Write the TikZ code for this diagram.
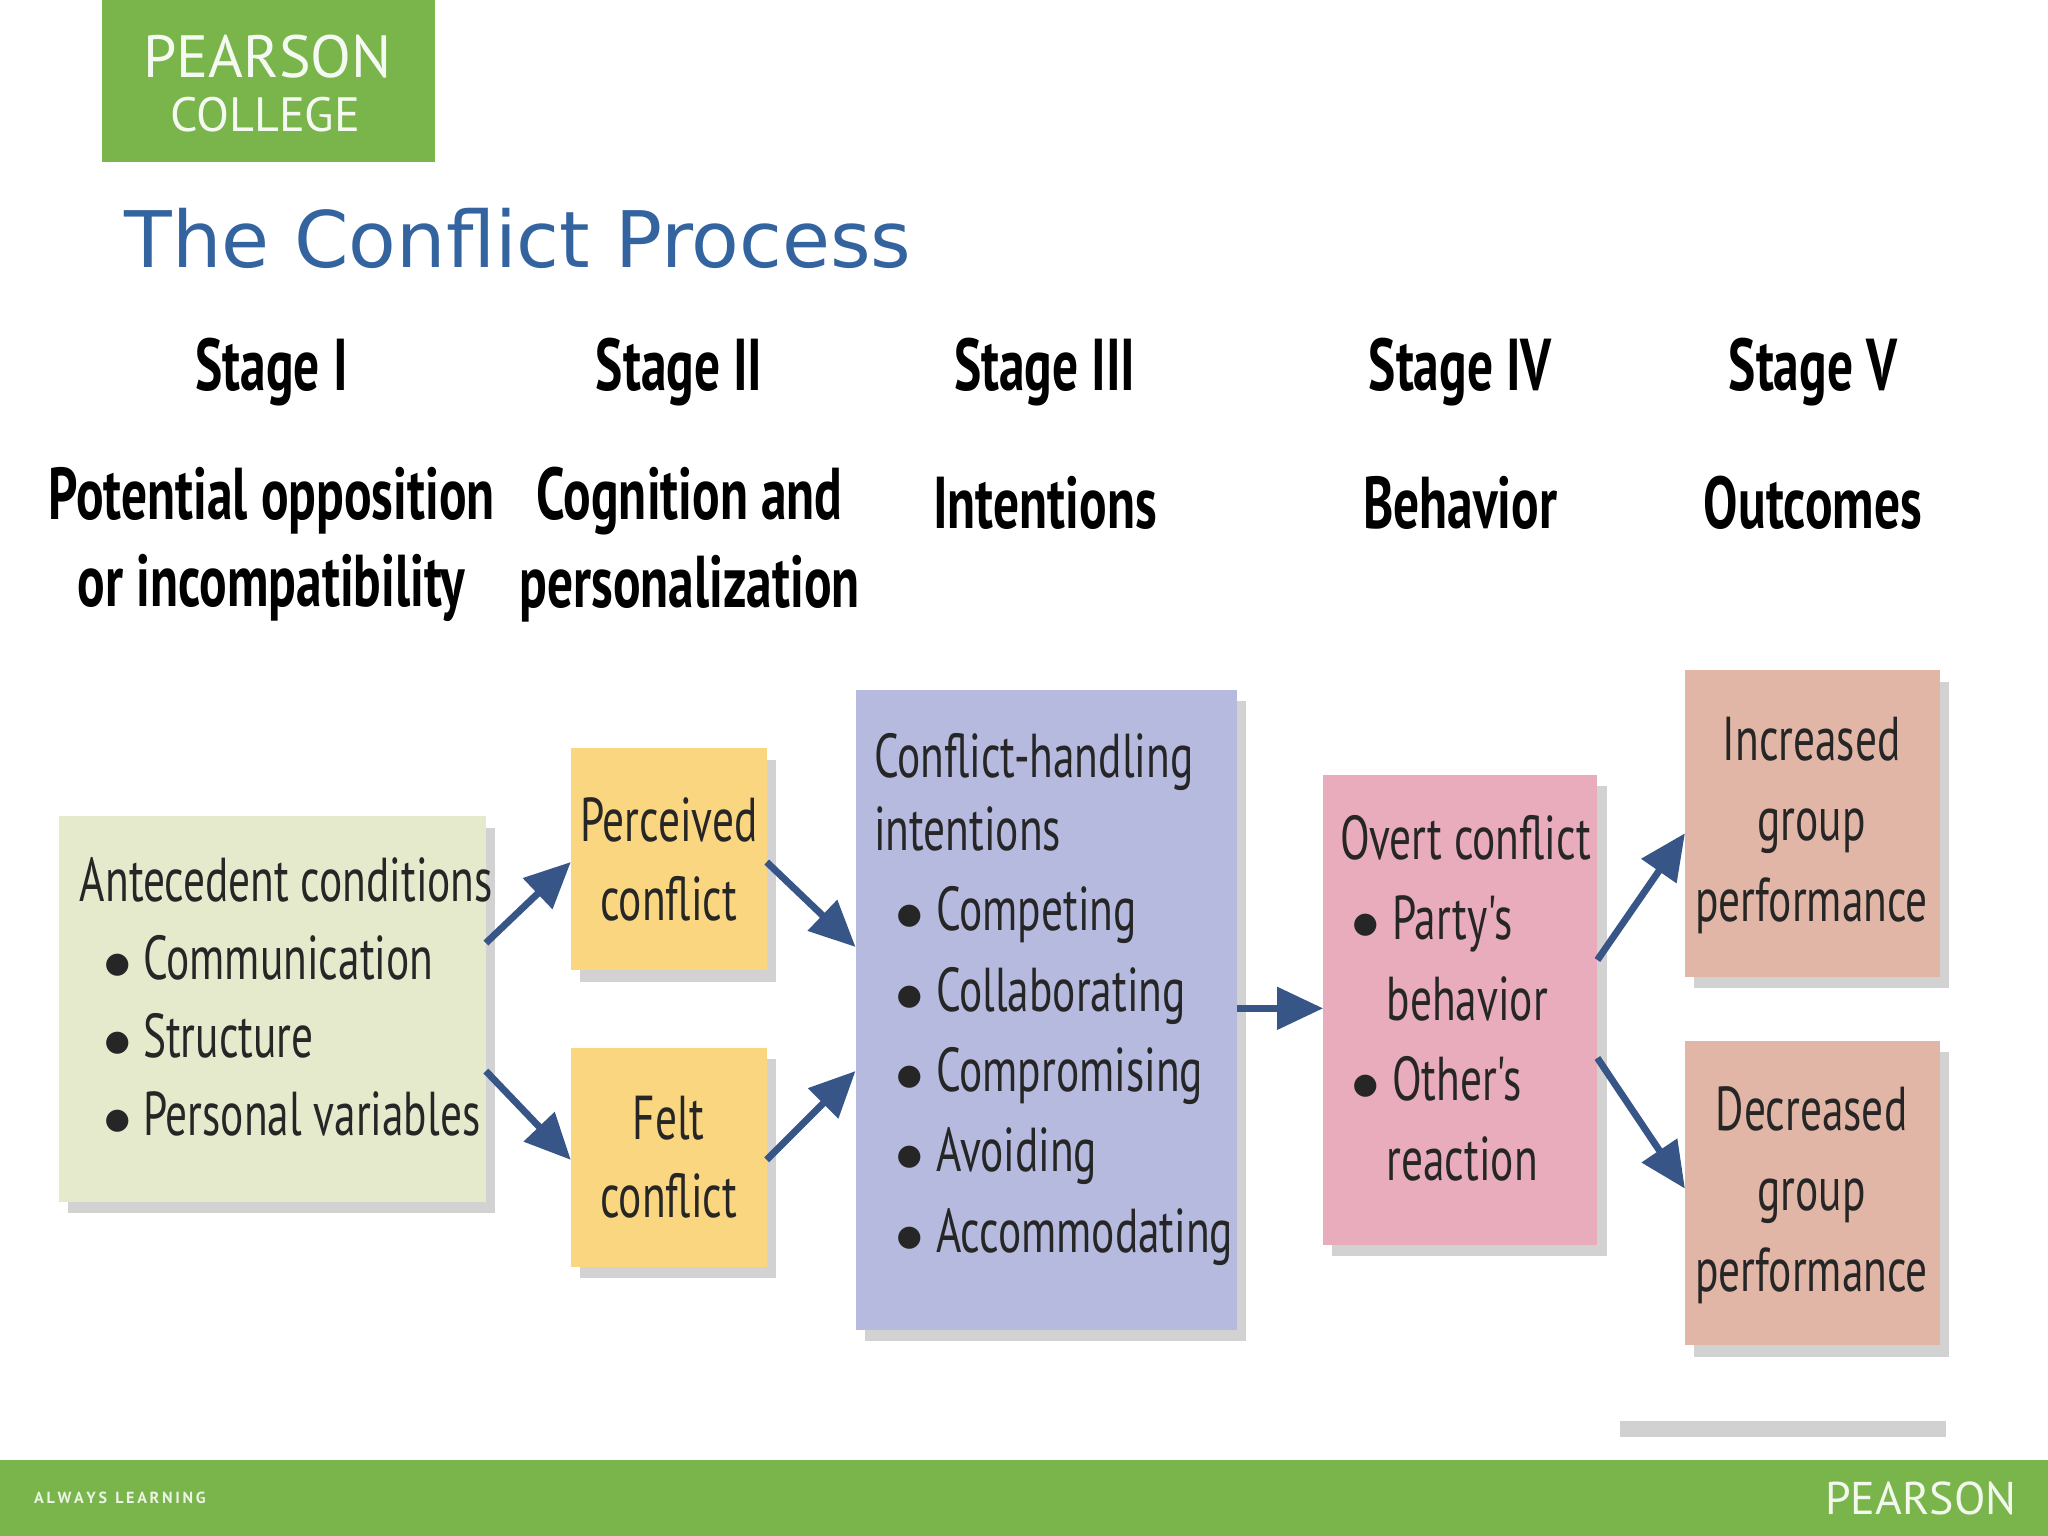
\documentclass[tikz,border=0pt]{standalone}
\usepackage{fontspec}
\setmainfont{PT Sans}
\newfontfamily\cond{PT Sans}[FakeStretch=0.7]
\newfontfamily\verd{DejaVu Sans}
\usetikzlibrary{calc,shadows,arrows.meta}
\definecolor{pgreen}{RGB}{122,181,76}
\definecolor{ptitle}{RGB}{52,100,160}
\definecolor{arr}{RGB}{55,85,135}
\definecolor{cA}{RGB}{230,234,205}
\definecolor{cB}{RGB}{250,214,128}
\definecolor{cC}{RGB}{182,186,222}
\definecolor{cD}{RGB}{232,172,188}
\definecolor{cE}{RGB}{226,182,166}
\begin{document}
\begin{tikzpicture}[x=0.02cm,y=-0.02cm,
 box/.style={draw=none,inner sep=0pt,drop shadow={shadow xshift=4pt,shadow yshift=-5pt,opacity=0.35}},
 txt/.style={font=\cond\fontsize{27}{34}\selectfont,text=black!85,align=center},
 hd/.style={font=\cond\bfseries\fontsize{32}{38}\selectfont,text=black,align=center},
 ar/.style={draw=arr,line width=3pt,-{Triangle[length=20pt,width=18pt]}}]
\useasboundingbox (0,0) rectangle (1568,1176);
\fill[white] (0,0) rectangle (1568,1176);
% logo
\fill[pgreen] (78,0) rectangle (333,124);
\node[text=white!92!pgreen,font=\fontsize{26}{26}\selectfont] (l1) at (205,43) {PEARSON};
\node[text=white!92!pgreen,font=\fontsize{21}{21}\selectfont] (l2) at (203,88) {COLLEGE};
\node[anchor=base west,text=ptitle,font=\verd\fontsize{34}{34}\selectfont,inner sep=0pt] (title) at (95,205) {The Conflict Process};
% headers
\node[hd] (s1) at (208,285) {Stage I};
\node[hd] (s2) at (520,285) {Stage II};
\node[hd] (s3) at (800,285) {Stage III};
\node[hd] (s4) at (1118,285) {Stage IV};
\node[hd] (s5) at (1388,285) {Stage V};
\node[hd] (h1) at (208,417) {Potential opposition\\or incompatibility};
\node[hd] (h2) at (528,417) {Cognition and\\personalization};
\node[hd] (h3) at (800,385) {Intentions};
\node[hd] (h4) at (1118,385) {Behavior};
\node[hd] (h5) at (1388,385) {Outcomes};
% boxes
\path[box,fill=cA] (45,625) rectangle (372,920);
\node[txt,align=left,anchor=north west] (ante) at (55,650) {Antecedent conditions\\
\ \ $\bullet$ Communication\\\ \ $\bullet$ Structure\\\ \ $\bullet$ Personal variables};
\path[box,fill=cB] (437,573) rectangle (587,743);
\node[txt] (perc) at (512,658) {Perceived\\conflict};
\path[box,fill=cB] (437,802) rectangle (587,970);
\node[txt] (felt) at (512,886) {Felt\\conflict};
\path[box,fill=cC] (655,528) rectangle (947,1018);
\node[txt,align=left,anchor=north west,font=\cond\fontsize{27}{32}\selectfont] (int) at (663,555) {Conflict-handling\\intentions\\[3pt]
\ \,$\bullet$ Competing\\[3pt]\ \,$\bullet$ Collaborating\\[3pt]\ \,$\bullet$ Compromising\\[3pt]\ \,$\bullet$ Avoiding\\[3pt]\ \,$\bullet$ Accommodating};
\path[box,fill=cD] (1013,593) rectangle (1223,953);
\node[txt,align=left,anchor=north west,font=\cond\fontsize{27}{32}\selectfont] (overt) at (1020,618) {Overt conflict\\[3pt]
\ $\bullet$ Party's\\[3pt]\ \ \ \ behavior\\[3pt]\ $\bullet$ Other's\\[3pt]\ \ \ \ reaction};
\path[box,fill=cE] (1290,513) rectangle (1485,748);
\node[txt,font=\cond\fontsize{27}{32}\selectfont,align=center] (inc) at (1387,632) {Increased\\[3pt]group\\[3pt]performance};
\path[box,fill=cE] (1290,797) rectangle (1485,1030);
\node[txt,font=\cond\fontsize{27}{32}\selectfont,align=center] (dec) at (1387,915) {Decreased\\[3pt]group\\[3pt]performance};
% named anchor points
\coordinate (a1) at (372,722); \coordinate (a2) at (372,820);
\coordinate (p1) at (437,660); \coordinate (f1) at (437,888);
\coordinate (p2) at (587,660); \coordinate (f2) at (587,888);
\coordinate (i1) at (655,725); \coordinate (i2) at (655,820);
\coordinate (i3) at (947,772); \coordinate (o1) at (1013,772);
\coordinate (o2) at (1223,735); \coordinate (o3) at (1223,810);
\coordinate (n1) at (1290,638); \coordinate (n2) at (1290,910);
\draw[ar] (a1) -- (p1);
\draw[ar] (a2) -- (f1);
\draw[ar] (p2) -- (i1);
\draw[ar] (f2) -- (i2);
\draw[ar] (i3) -- (o1);
\draw[ar] (o2) -- (n1);
\draw[ar] (o3) -- (n2);
% bottom
\fill[black!18] (1240,1088) rectangle (1490,1100);
\fill[pgreen] (0,1118) rectangle (1568,1176);
\node[anchor=west,text=white!85!pgreen,font=\bfseries\fontsize{7}{7}\selectfont] (al) at (20,1147) {A\,L\,W\,A\,Y\,S\ \ L\,E\,A\,R\,N\,I\,N\,G};
\node[anchor=east,text=white!90!pgreen,font=\fontsize{20}{20}\selectfont] (pe) at (1550,1147) {PEARSON};
\end{tikzpicture}
\end{document}
